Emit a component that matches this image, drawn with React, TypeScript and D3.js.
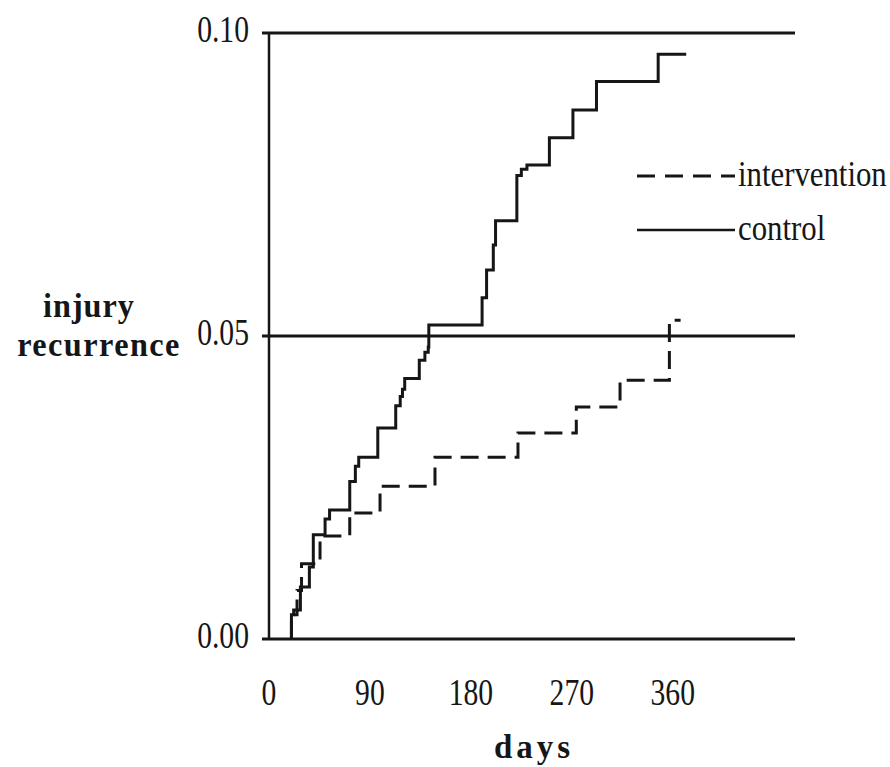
import React from "react";
import * as d3 from "d3";

// Kaplan-Meier style cumulative injury recurrence
const controlDays = [20, 22, 28, 36, 39.5, 50, 54, 72, 77, 80, 97, 113, 117, 119, 121, 134, 139, 142, 142.5, 190, 194, 200, 202, 221, 225, 230, 250, 271, 292, 347];
const controlRisk = [0.004, 0.0048, 0.0086, 0.0119, 0.0172, 0.0198, 0.0213, 0.026, 0.0285, 0.03, 0.0348, 0.0385, 0.04, 0.0412, 0.043, 0.046, 0.0473, 0.0482, 0.0518, 0.0563, 0.0609, 0.065, 0.069, 0.0765, 0.0775, 0.0782, 0.0827, 0.0873, 0.092, 0.0965];
const controlLastDay = 372;

const interventionDays = [20, 25, 29, 45.5, 72, 99, 148, 222, 274, 313, 357];
const interventionRisk = [0.004, 0.008, 0.0124, 0.017, 0.0208, 0.0252, 0.03, 0.034, 0.0383, 0.0427, 0.0526];
const interventionLastDay = 367;

const dayTicks = [0, 90, 180, 270, 360];
const riskTicks = [0, 0.05, 0.1];

const width = 890;
const height = 767;
const ink = "#161616";
const serif = "'Liberation Serif', 'Times New Roman', serif";

const x = d3.scaleLinear().domain([0, 469]).range([269, 795]);
const y = d3.scaleLinear().domain([0, 0.1]).range([639, 33]);
const fmt = d3.format(".2f");

const stepLine = d3
    .line<[number, number]>()
    .x(d => x(d[0]))
    .y(d => y(d[1]))
    .curve(d3.curveStepAfter);

const toPoints = (days: number[], risk: number[], last: number): [number, number][] => {
    const pts: [number, number][] = [[days[0], 0]];
    days.forEach((d, i) => pts.push([d, risk[i]]));
    pts.push([last, risk[risk.length - 1]]);
    return pts;
};

// narrow serif text, like the condensed Times of the original
const Narrow = ({tx, ty, anchor, size, sx, children, weight, spacing}: any) => (
    <g transform={`translate(${tx},${ty}) scale(${sx},1)`}>
        <text
            textAnchor={anchor}
            fontFamily={serif}
            fontSize={size}
            fontWeight={weight || "normal"}
            letterSpacing={spacing || 0}
            fill={ink}
        >
            {children}
        </text>
    </g>
);

const App = () => {
    const control = toPoints(controlDays, controlRisk, controlLastDay);
    const intervention = toPoints(interventionDays, interventionRisk, interventionLastDay);

    return (
        <svg
            width={width}
            height={height}
            style={{position: "absolute", left: 0, top: 0, background: "#fff"}}
        >
            {/* horizontal reference lines */}
            {riskTicks.map(t => (
                <line key={t} x1={262} x2={795} y1={y(t)} y2={y(t)} stroke={ink} strokeWidth={3} />
            ))}
            {/* y axis */}
            <line x1={x(0)} x2={x(0)} y1={y(0)} y2={y(0.1)} stroke={ink} strokeWidth={2.5} />

            {/* y tick labels */}
            {riskTicks.map(t => (
                <Narrow key={t} tx={249} ty={y(t) + 9} anchor="end" size={38} sx={0.78}>
                    {fmt(t)}
                </Narrow>
            ))}

            {/* x tick labels */}
            {dayTicks.map(t => (
                <Narrow key={t} tx={x(t)} ty={705} anchor="middle" size={38} sx={0.78}>
                    {t}
                </Narrow>
            ))}

            {/* axis titles */}
            <Narrow tx={89} ty={317} anchor="middle" size={34} sx={0.95} weight="bold" spacing={1}>
                injury
            </Narrow>
            <Narrow tx={99} ty={356} anchor="middle" size={34} sx={0.95} weight="bold" spacing={1.5}>
                recurrence
            </Narrow>
            <Narrow tx={534} ty={758} anchor="middle" size={33} sx={1} weight="bold" spacing={4}>
                days
            </Narrow>

            {/* curves */}
            <path d={stepLine(control) || ""} fill="none" stroke={ink} strokeWidth={3} />
            <path
                d={stepLine(intervention) || ""}
                fill="none"
                stroke={ink}
                strokeWidth={3}
                strokeDasharray="18,9"
            />

            {/* legend */}
            <line x1={637} x2={735} y1={176} y2={176} stroke={ink} strokeWidth={3} strokeDasharray="18,10" />
            <Narrow tx={738} ty={186} anchor="start" size={35} sx={0.88}>
                intervention
            </Narrow>
            <line x1={637} x2={735} y1={230} y2={230} stroke={ink} strokeWidth={2.5} />
            <Narrow tx={738} ty={240} anchor="start" size={35} sx={0.88}>
                control
            </Narrow>
        </svg>
    );
};

export default App;
